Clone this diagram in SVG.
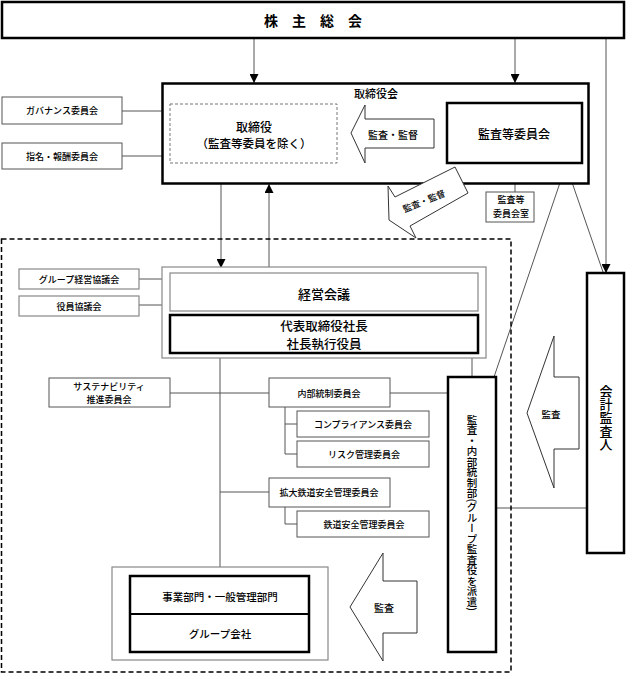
<svg xmlns="http://www.w3.org/2000/svg" width="626" height="674" viewBox="0 0 626 674">
<style>
text{font-family:"Noto Sans CJK JP","Noto Sans",sans-serif;font-weight:500;fill:#000;text-anchor:middle;dominant-baseline:central}
.thick{fill:#fff;stroke:#000;stroke-width:2.5}
.thin{fill:#fff;stroke:#555;stroke-width:1}
.gray{fill:#fff;stroke:#888;stroke-width:1.2}
.con{stroke:#555;stroke-width:1;fill:none}
.big{fill:#fff;stroke:#333;stroke-width:1}
.s9{font-size:9px}
.vt{writing-mode:vertical-rl;text-anchor:start;dominant-baseline:central}
</style>
<defs>
<marker id="ah" markerUnits="userSpaceOnUse" markerWidth="9" markerHeight="9" refX="9" refY="4.5" orient="auto">
<path d="M0,0 L9,4.5 L0,9 z" fill="#000"/>
</marker>
</defs>

<g id="connectors">
<line class="con" x1="254" y1="38" x2="254" y2="83" marker-end="url(#ah)"/>
<line class="con" x1="515" y1="38" x2="515" y2="83" marker-end="url(#ah)"/>
<line class="con" x1="606" y1="38" x2="606" y2="273" marker-end="url(#ah)"/>
<line class="con" x1="122" y1="111" x2="162" y2="111"/>
<line class="con" x1="122" y1="156" x2="162" y2="156"/>
<line class="con" x1="515" y1="163" x2="515" y2="192"/>
<line class="con" x1="566" y1="165" x2="494" y2="377"/>
<line class="con" x1="566" y1="165" x2="603" y2="272"/>
<line class="con" x1="221" y1="184" x2="221" y2="268" marker-end="url(#ah)"/>
<line class="con" x1="269" y1="268" x2="269" y2="184" marker-end="url(#ah)"/>
<line class="con" x1="139" y1="279" x2="170" y2="279"/>
<line class="con" x1="139" y1="305" x2="170" y2="305"/>
<line class="con" x1="220" y1="353" x2="220" y2="567"/>
<line class="con" x1="472" y1="353" x2="472" y2="377"/>
<line class="con" x1="170" y1="393" x2="269" y2="393"/>
<line class="con" x1="390" y1="393" x2="448" y2="393"/>
<path class="con" d="M285,407 V454 H297 M285,424 H297"/>
<line class="con" x1="220" y1="492" x2="269" y2="492"/>
<path class="con" d="M285,507 V524 H297"/>
<line class="con" x1="496" y1="508" x2="587" y2="508"/>
</g>

<g id="dashed-area">
<rect x="1.5" y="239" width="509.5" height="433" fill="none" stroke="#000" stroke-width="1.5" stroke-dasharray="5,3"/>
</g>

<g id="shareholders">
<rect class="thick" x="2" y="2" width="622" height="36"/>
<text x="313" y="20" style="font-size:14px;font-weight:bold">株　主　総　会</text>
</g>

<g id="board">
<rect class="thick" x="162.5" y="83.5" width="426" height="100"/>
<text x="376" y="93" style="font-size:11px">取締役会</text>
</g>

<g id="directors">
<rect x="170" y="104" width="167" height="59" fill="#fff" stroke="#777" stroke-width="1" stroke-dasharray="3,2"/>
<text x="254" y="126.5" style="font-size:12px">取締役</text>
<text x="254" y="143" style="font-size:11.5px">（監査等委員を除く）</text>
</g>

<g id="arrow-audit-supervise">
<polygon class="big" points="351,133 365,105 365,119 434,119 434,148 365,148 365,163"/>
<text x="393" y="134" style="font-size:10px">監査・監督</text>
</g>

<g id="audit-committee">
<rect class="thick" x="447" y="103" width="135" height="60"/>
<text x="514" y="133" style="font-size:12px">監査等委員会</text>
</g>

<g id="audit-committee-office">
<rect class="thin" x="486" y="192" width="48" height="30"/>
<text class="s9" x="511" y="199.5">監査等</text>
<text class="s9" x="511" y="213.5">委員会室</text>
</g>

<g id="arrow-diagonal">
<polygon class="big" points="455,167 468,193 410,226 416,238 389,220 388,186 395,197"/>
<text class="s9" x="424" y="201" transform="rotate(-22 424 201)">監査・監督</text>
</g>

<g id="governance">
<rect class="thin" x="2" y="97" width="120" height="27"/>
<text class="s9" x="62" y="110.5">ガバナンス委員会</text>
</g>

<g id="nomination">
<rect class="thin" x="2" y="143" width="120" height="26"/>
<text class="s9" x="62" y="156">指名・報酬委員会</text>
</g>

<g id="management-group">
<rect class="gray" x="162" y="267" width="324" height="91"/>
</g>

<g id="management-meeting">
<rect class="gray" x="170" y="273" width="308" height="38"/>
<text x="324" y="293" style="font-size:13px">経営会議</text>
</g>

<g id="president">
<rect class="thick" x="170" y="315" width="308" height="38"/>
<text x="324" y="325.5" style="font-size:12.5px">代表取締役社長</text>
<text x="324" y="343.5" style="font-size:12.5px">社長執行役員</text>
</g>

<g id="group-council">
<rect class="gray" x="19" y="269" width="120" height="20"/>
<text class="s9" x="79" y="279">グループ経営協議会</text>
</g>

<g id="officers-council">
<rect class="gray" x="19" y="296" width="120" height="20"/>
<text class="s9" x="79" y="306">役員協議会</text>
</g>

<g id="sustainability">
<rect class="thin" x="49" y="378" width="121" height="29"/>
<text class="s9" x="109" y="386">サステナビリティ</text>
<text class="s9" x="109" y="399">推進委員会</text>
</g>

<g id="internal-control">
<rect class="thin" x="269" y="378" width="121" height="29"/>
<text class="s9" x="329" y="393">内部統制委員会</text>
</g>

<g id="compliance">
<rect class="thin" x="297" y="411" width="132" height="26"/>
<text class="s9" x="363" y="424">コンプライアンス委員会</text>
</g>

<g id="risk">
<rect class="thin" x="297" y="441" width="132" height="26"/>
<text class="s9" x="364" y="454">リスク管理委員会</text>
</g>

<g id="extended-rail-safety">
<rect class="thin" x="269" y="478" width="121" height="29"/>
<text class="s9" x="329" y="492.5">拡大鉄道安全管理委員会</text>
</g>

<g id="rail-safety">
<rect class="thin" x="297" y="511" width="132" height="26"/>
<text class="s9" x="364" y="524">鉄道安全管理委員会</text>
</g>

<g id="business-group">
<rect class="gray" x="112" y="567" width="216" height="93"/>
<rect class="thick" x="130" y="576" width="179" height="76"/>
<line x1="130" y1="614" x2="309" y2="614" stroke="#000" stroke-width="2"/>
<text x="220" y="596" style="font-size:10.5px">事業部門・一般管理部門</text>
<text x="220" y="633" style="font-size:10.5px">グループ会社</text>
</g>

<g id="arrow-audit-bottom">
<polygon class="big" points="350,607 383,553 383,581 417,581 417,633 383,633 383,661"/>
<text x="384" y="607" style="font-size:10px">監査</text>
</g>

<g id="audit-internal-control">
<rect class="thick" x="448" y="377" width="48" height="275"/>
<text class="vt" x="472" y="414.5" style="font-size:10.5px">監査・内部統制部(グループ監査役を派遣)</text>
</g>

<g id="arrow-audit-right">
<polygon class="big" points="527,413 554,336 554,377 579,377 579,449 554,449 554,488"/>
<text x="551" y="414" style="font-size:9.5px">監査</text>
</g>

<g id="accounting-auditor">
<rect class="thick" x="587" y="273" width="37" height="280"/>
<text x="606 606 606 606 606" y="390 403.3 416.6 430 443.3" style="font-size:13px">会計監査人</text>
</g>
</svg>
